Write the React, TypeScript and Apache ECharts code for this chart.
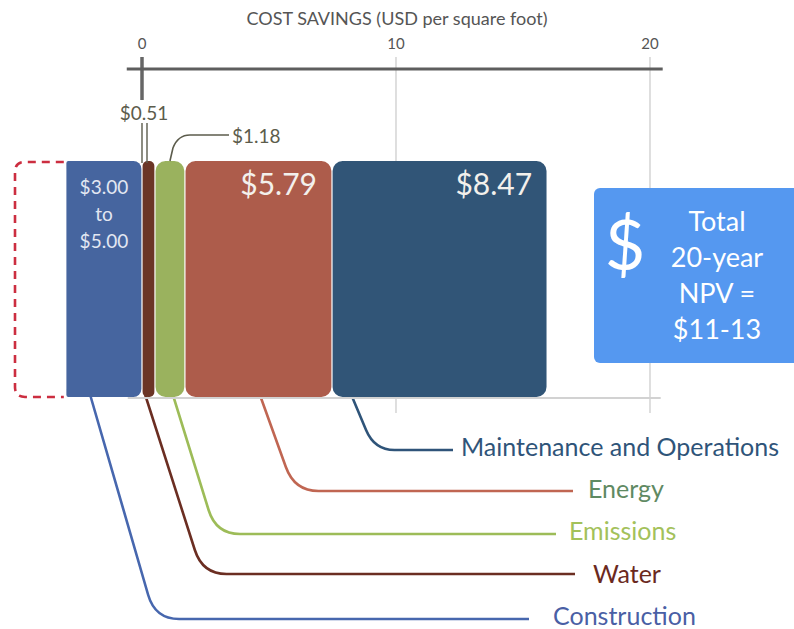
import React, { useEffect, useRef } from 'react';
import * as echarts from 'echarts';

// ---------- data ----------
const categories = ['Construction', 'Water', 'Emissions', 'Energy', 'Maintenance and Operations'];
const savings = [-3.0, 0.51, 1.18, 5.79, 8.47];
const constructionRange = [3.0, 5.0];
const barLabels = ['$3.00\nto\n$5.00', '', '', '$5.79', '$8.47'];
const calloutLabels = ['', '$0.51', '$1.18', '', ''];
const tickValues = [0, 10, 20];
const gridValues = [10, 20];
const axisSpan = [-0.6, 20.5];
const axisTitle = 'COST SAVINGS (USD per square foot)';
const totalLines = ['Total', '20-year', 'NPV =', '$11-13'];

// ---------- styles / layout ----------
const FONT = 'Lato, "Open Sans", sans-serif';
const barColors = ['#46659F', '#6B3526', '#9AB25E', '#AD5C4B', '#315577'];
const lineColors = ['#4767AE', '#6B2E22', '#9DBC58', '#C06652', '#2F5479'];
const labelColors = ['#4A5FA5', '#6B2A1E', '#A3C15A', '#5F8A63', '#2F5479'];
const barRadii: any[] = [[2, 8, 8, 2], 5, 10, 10, 10];
const leaderFrac = [0.32, 0.25, 0.6, 0.51, 0.09];
const leaderY = [619, 574, 534, 491, 450];
const leaderEndX = [529, 575, 556, 573, 453];
const labelX = [553, 593, 569, 588, 461];
const labelDy = [-4, -1, -4, -3, -4];
const leaderSlope = [0.29, 0.32, 0.31, 0.36, 0.42];
const BAR_TOP = 161;
const BAR_BOTTOM = 397;

function computeSpans() {
  const out: number[][] = [];
  let acc = 0;
  savings.forEach((v, i) => {
    if (v < 0) out.push([v, 0, i]);
    else {
      out.push([acc, acc + v, i]);
      acc += v;
    }
  });
  return out;
}

export default function App() {
  const ref = useRef<HTMLDivElement>(null);

  useEffect(() => {
    if (!ref.current) return;
    const chart = echarts.init(ref.current, null, { renderer: 'svg' });
    const spans = computeSpans();

    const txt = (o: any) => ({
      type: 'text',
      style: {
        fontFamily: FONT,
        ...o,
        align: o.align,
        verticalAlign: o.verticalAlign,
        textAlign: o.align,
        textVerticalAlign: o.verticalAlign,
      },
    });

    const option: any = {
      animation: false,
      backgroundColor: '#ffffff',
      title: {
        text: axisTitle,
        left: 'center',
        top: 4,
        textStyle: { fontSize: 18, fontWeight: 'normal', color: '#555555', fontFamily: FONT },
      },
      grid: { left: 2.3, right: 118.6, top: 69, bottom: 10, containLabel: false, outerBoundsMode: 'none' },
      xAxis: {
        type: 'value',
        position: 'top',
        min: -5.5,
        max: 21,
        axisLine: { show: false },
        axisTick: { show: false },
        splitLine: { show: false },
        axisLabel: {
          customValues: tickValues,
          color: '#555555',
          fontSize: 15,
          margin: 19,
          fontFamily: FONT,
        },
      },
      yAxis: { type: 'value', min: 0, max: 100, show: false },
      graphic: [
        {
          type: 'group',
          z: 20,
          children: [
            { type: 'rect', z: 20, shape: { x: 594, y: 188, width: 220, height: 175, r: 6 }, style: { fill: '#5598F0' } },
            {
              type: 'text',
              z: 21,
              style: {
                text: '$', x: 625, y: 243, fontSize: 70, fontWeight: 'normal', fontFamily: FONT, fill: '#ffffff',
                textAlign: 'center', textVerticalAlign: 'middle', align: 'center', verticalAlign: 'middle',
              },
            },
            {
              type: 'text',
              z: 21,
              style: {
                text: totalLines.join('\n'), x: 717, y: 202, fontSize: 27, lineHeight: 36, fontFamily: FONT,
                fill: '#ffffff', textAlign: 'center', textVerticalAlign: 'top', align: 'center', verticalAlign: 'top',
              },
            },
          ],
        },
      ],
      series: [
        // grid lines at 10, 20 and thick zero tick
        {
          type: 'custom',
          z: 1,
          silent: true,
          data: tickValues.map((v) => [v, 0]),
          renderItem: (params: any, api: any) => {
            const v = api.value(0);
            const x = api.coord([v, 0])[0];
            if (gridValues.indexOf(v) >= 0) {
              return {
                type: 'line',
                shape: { x1: x, y1: 57, x2: x, y2: 413 },
                style: { stroke: '#C9C9C9', lineWidth: 1.2 },
              };
            }
            return {
              type: 'line',
              shape: { x1: x, y1: 57, x2: x, y2: 100 },
              style: { stroke: '#666666', lineWidth: 3.5 },
            };
          },
        },
        // axis line & baseline
        {
          type: 'custom',
          z: 5,
          silent: true,
          data: [axisSpan],
          renderItem: (params: any, api: any) => {
            const a = api.coord([api.value(0), 0])[0];
            const b = api.coord([api.value(1), 0])[0];
            return {
              type: 'group',
              children: [
                { type: 'line', shape: { x1: a, y1: 69, x2: b, y2: 69 }, style: { stroke: '#5E5E5E', lineWidth: 3 } },
                { type: 'line', z2: -5, shape: { x1: a + 1, y1: 398, x2: b - 2, y2: 398 }, style: { stroke: '#D2D2D2', lineWidth: 2 } },
              ],
            };
          },
        },
        // leader lines + category labels
        {
          type: 'custom',
          z: 2,
          silent: true,
          data: spans,
          renderItem: (params: any, api: any) => {
            const i = api.value(2);
            const x0 = api.coord([api.value(0), 0])[0];
            const x1 = api.coord([api.value(1), 0])[0];
            const xs = x0 + leaderFrac[i] * (x1 - x0);
            const ys = BAR_BOTTOM - 2;
            const hy = leaderY[i];
            const s = leaderSlope[i];
            const r = i === 4 ? 20 : 24;
            const xc = xs + s * (hy - ys);
            const pathData =
              `M${xs},${ys} L${xc - s * r},${hy - r} Q${xc},${hy} ${xc + r},${hy} L${leaderEndX[i]},${hy}`;
            return {
              type: 'group',
              children: [
                {
                  type: 'path',
                  shape: { pathData },
                  style: { stroke: lineColors[i], lineWidth: 2.6, fill: 'none' },
                },
                txt({
                  text: categories[i],
                  x: labelX[i],
                  y: hy + labelDy[i],
                  fontSize: 25,
                  fill: labelColors[i],
                  align: 'left',
                  verticalAlign: 'middle',
                }),
              ],
            };
          },
        },
        // bars
        {
          type: 'custom',
          z: 3,
          silent: true,
          data: spans,
          renderItem: (params: any, api: any) => {
            const i = api.value(2);
            const x0 = api.coord([api.value(0), 0])[0];
            const x1 = api.coord([api.value(1), 0])[0];
            const children: any[] = [
              {
                type: 'rect',
                shape: { x: x0 + 0.6, y: BAR_TOP, width: x1 - x0 - 1.2, height: BAR_BOTTOM - BAR_TOP, r: barRadii[i] },
                style: { fill: barColors[i] },
              },
            ];
            if (barLabels[i]) {
              if (savings[i] < 0) {
                children.push(
                  txt({
                    text: barLabels[i], x: (x0 + x1) / 2, y: 173, fontSize: 19, lineHeight: 27,
                    fill: '#E2E7F2', align: 'center', verticalAlign: 'top',
                  })
                );
              } else {
                children.push(
                  txt({
                    text: barLabels[i], x: x1 - 15, y: 183, fontSize: 30,
                    fill: '#F3F0EC', align: 'right', verticalAlign: 'middle',
                  })
                );
              }
            }
            return { type: 'group', children };
          },
        },
        // dashed construction range extension
        {
          type: 'custom',
          z: 3,
          silent: true,
          data: [[-constructionRange[1], -constructionRange[0]]],
          renderItem: (params: any, api: any) => {
            const a = api.coord([api.value(0), 0])[0];
            const b = api.coord([api.value(1), 0])[0];
            const r = 10;
            const t = BAR_TOP + 1;
            const bt = BAR_BOTTOM;
            const pathData = `M${b - 2},${t} L${a + r},${t} Q${a},${t} ${a},${t + r} L${a},${bt - r} Q${a},${bt} ${a + r},${bt} L${b - 2},${bt}`;
            return {
              type: 'path',
              shape: { pathData },
              style: { stroke: '#CC2E40', lineWidth: 2.6, lineDash: [8, 6], fill: 'none' },
            };
          },
        },
        // callouts for small values
        {
          type: 'custom',
          z: 4,
          silent: true,
          data: spans.filter((s) => calloutLabels[s[2]]),
          renderItem: (params: any, api: any) => {
            const i = api.value(2);
            const x0 = api.coord([api.value(0), 0])[0];
            const x1 = api.coord([api.value(1), 0])[0];
            const col = '#5C5C4C';
            if (i === 1) {
              return {
                type: 'group',
                children: [
                  { type: 'line', shape: { x1: x0, y1: 123, x2: x0, y2: BAR_TOP + 2 }, style: { stroke: col, lineWidth: 1.4 } },
                  { type: 'line', shape: { x1: x0 + 5, y1: 123, x2: x0 + 5, y2: BAR_TOP + 2 }, style: { stroke: col, lineWidth: 1.4 } },
                  txt({ text: calloutLabels[i], x: x0 + 2, y: 112, fontSize: 19, fill: col, align: 'center', verticalAlign: 'middle' }),
                ],
              };
            }
            const xm = (x0 + x1) / 2;
            const pathData = `M${xm},${BAR_TOP} L${xm + 3},${148} Q${xm + 8},${135} ${xm + 20},${135} L229,135`;
            return {
              type: 'group',
              children: [
                { type: 'path', shape: { pathData }, style: { stroke: col, lineWidth: 1.6, fill: 'none' } },
                txt({ text: calloutLabels[i], x: 232, y: 135, fontSize: 19, fill: col, align: 'left', verticalAlign: 'middle' }),
              ],
            };
          },
        },
      ],
    };

    chart.setOption(option);
    return () => chart.dispose();
  }, []);

  return (
    <div
      ref={ref}
      style={{ position: 'fixed', left: 0, top: 0, width: 794, height: 629, background: '#ffffff' }}
    />
  );
}
